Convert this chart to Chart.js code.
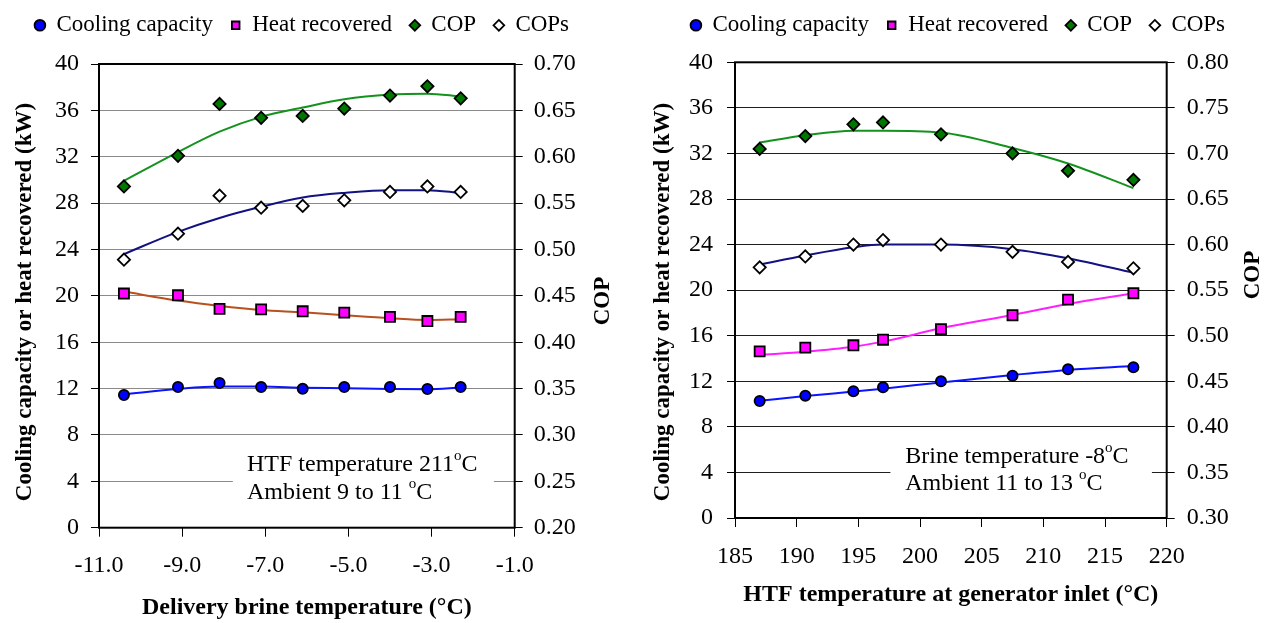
<!DOCTYPE html>
<html><head><meta charset="utf-8">
<script src="https://cdn.jsdelivr.net/npm/chart.js@4.4.1/dist/chart.umd.min.js"></script>
<style>
html,body{margin:0;padding:0;background:#fff;}
#w1{position:absolute;left:0;top:0;width:640px;height:623px;}
#w2{position:absolute;left:640px;top:0;width:636px;height:623px;}
</style></head><body>
<div id="w1"><canvas id="c1" width="640" height="623"></canvas></div>
<div id="w2"><canvas id="c2" width="636" height="623"></canvas></div>
<script>
// ---------- Left chart data ----------
const seriesNames = ['Cooling capacity', 'Heat recovered', 'COP', 'COPs'];
const L_brineT   = [-10.4, -9.1, -8.1, -7.1, -6.1, -5.1, -4.0, -3.1, -2.3];
const L_cooling  = [11.45, 12.14, 12.48, 12.14, 11.99, 12.14, 12.14, 11.97, 12.14];
const L_heat     = [20.2, 20.05, 18.87, 18.84, 18.67, 18.55, 18.18, 17.83, 18.18];
const L_cop      = [0.568, 0.601, 0.657, 0.642, 0.644, 0.652, 0.666, 0.676, 0.663];
const L_cops     = [0.489, 0.517, 0.558, 0.545, 0.547, 0.553, 0.562, 0.568, 0.562];
// trendlines at the same temperatures
const L_coolingTrend = [11.51, 11.97, 12.17, 12.17, 12.08, 12.03, 11.97, 11.94, 12.10];
const L_heatTrend    = [20.37, 19.59, 19.13, 18.78, 18.58, 18.33, 18.07, 17.92, 17.98];
const L_copTrend     = [0.574, 0.605, 0.627, 0.643, 0.653, 0.662, 0.667, 0.668, 0.665];
const L_copsTrend    = [0.495, 0.519, 0.534, 0.546, 0.556, 0.561, 0.564, 0.564, 0.561];
const L_xTicks  = [-11, -9, -7, -5, -3, -1];
const L_xLabels = ['-11.0', '-9.0', '-7.0', '-5.0', '-3.0', '-1.0'];
const L_yTicks  = [0, 4, 8, 12, 16, 20, 24, 28, 32, 36, 40];
const L_y1Ticks = [0.20, 0.25, 0.30, 0.35, 0.40, 0.45, 0.50, 0.55, 0.60, 0.65, 0.70];
const L_y1Labels = ['0.20','0.25','0.30','0.35','0.40','0.45','0.50','0.55','0.60','0.65','0.70'];
const L_xTitle = 'Delivery brine temperature (°C)';
const L_note = [[['HTF temperature 211', false], ['o', true], ['C', false]],
                [['Ambient 9 to 11 ', false], ['o', true], ['C', false]]];

// ---------- Right chart data ----------
const R_htfT     = [187, 190.7, 194.6, 197, 201.7, 207.5, 212, 217.3];
const R_cooling  = [10.27, 10.74, 11.12, 11.47, 12.0, 12.49, 13.05, 13.23];
const R_heat     = [14.63, 14.95, 15.16, 15.65, 16.57, 17.80, 19.17, 19.73];
const R_cop      = [0.705, 0.719, 0.732, 0.734, 0.721, 0.700, 0.681, 0.671];
const R_cops     = [0.575, 0.587, 0.600, 0.605, 0.600, 0.592, 0.581, 0.574];
const R_coolingTrend = [10.30, 10.70, 11.10, 11.35, 11.90, 12.55, 13.00, 13.34];
const R_heatTrend    = [14.31, 14.60, 15.04, 15.48, 16.65, 17.82, 18.79, 19.73];
const R_copTrend     = [0.712, 0.720, 0.725, 0.725, 0.723, 0.706, 0.689, 0.662];
const R_copsTrend    = [0.578, 0.588, 0.597, 0.600, 0.600, 0.595, 0.585, 0.569];
const R_xTicks  = [185, 190, 195, 200, 205, 210, 215, 220];
const R_xLabels = ['185','190','195','200','205','210','215','220'];
const R_yTicks  = [0, 4, 8, 12, 16, 20, 24, 28, 32, 36, 40];
const R_y1Ticks = [0.30, 0.35, 0.40, 0.45, 0.50, 0.55, 0.60, 0.65, 0.70, 0.75, 0.80];
const R_y1Labels = ['0.30','0.35','0.40','0.45','0.50','0.55','0.60','0.65','0.70','0.75','0.80'];
const R_xTitle = 'HTF temperature at generator inlet (°C)';
const R_note = [[['Brine temperature -8', false], ['o', true], ['C', false]],
                [['Ambient 11 to 13 ', false], ['o', true], ['C', false]]];

const yTitle = 'Cooling capacity or heat recovered (kW)';
const y1Title = 'COP';

const SERIF = '"Liberation Serif", "Times New Roman", serif';
Chart.defaults.color = '#000';
Chart.defaults.font.family = SERIF;

const pts = (xs, ys) => xs.map((x, i) => ({x, y: ys[i]}));

function richLine(ctx, x, y, parts) {
  let cx = x;
  for (const [t, sup] of parts) {
    ctx.font = (sup ? '15px ' : '24px ') + SERIF;
    ctx.fillText(t, cx, sup ? y - 9 : y);
    cx += ctx.measureText(t).width;
  }
}

function build(canvas, o) {
  const pointBase = {showLine: false, borderColor: '#000', pointBorderColor: '#000', pointBorderWidth: 1.8, borderWidth: 1.8};
  const trendBase = {showLine: true, pointRadius: 0, borderWidth: 2, cubicInterpolationMode: 'monotone', fill: false};
  const datasets = [
    Object.assign({label: seriesNames[0], data: pts(o.x, o.cooling), pointStyle: 'circle', pointRadius: 5.1,
      backgroundColor: '#0000ff', pointBackgroundColor: '#0000ff', yAxisID: 'y'}, pointBase),
    Object.assign({label: seriesNames[1], data: pts(o.x, o.heat), pointStyle: 'rect', pointRadius: 7.1,
      backgroundColor: '#ff00ff', pointBackgroundColor: '#ff00ff', yAxisID: 'y'}, pointBase),
    Object.assign({label: seriesNames[2], data: pts(o.x, o.cop), pointStyle: 'rectRot', pointRadius: 6.1,
      backgroundColor: '#007800', pointBackgroundColor: '#007800', yAxisID: 'y1'}, pointBase),
    Object.assign({label: seriesNames[3], data: pts(o.x, o.cops), pointStyle: 'rectRot', pointRadius: 6.1,
      backgroundColor: '#ffffff', pointBackgroundColor: '#ffffff', yAxisID: 'y1'}, pointBase),
    Object.assign({label: 't0', data: pts(o.x, o.coolingTrend), borderColor: o.colCooling, yAxisID: 'y'}, trendBase),
    Object.assign({label: 't1', data: pts(o.x, o.heatTrend), borderColor: o.colHeat, yAxisID: 'y'}, trendBase),
    Object.assign({label: 't2', data: pts(o.x, o.copTrend), borderColor: '#14921e', yAxisID: 'y1'}, trendBase),
    Object.assign({label: 't3', data: pts(o.x, o.copsTrend), borderColor: '#121282', yAxisID: 'y1'}, trendBase)
  ];
  const plugin = {
    id: 'deco',
    beforeLayout(chart) {
      const lg = chart.legend;
      if (lg && !lg._patched) {
        const f = lg.fit;
        lg.fit = function () { f.call(this); this.height = o.legendH; };
        lg._patched = true;
      }
    },
    beforeDatasetsDraw(chart) {
      const {ctx, scales: {x, y}} = chart;
      const n = o.note;
      const x0 = x.getPixelForValue(n.box[0]), x1 = x.getPixelForValue(n.box[1]);
      const y0 = y.getPixelForValue(n.box[3]), y1 = y.getPixelForValue(n.box[2]);
      ctx.save();
      ctx.fillStyle = '#fff';
      ctx.fillRect(x0, y0, x1 - x0, y1 - y0);
      ctx.fillStyle = '#000';
      ctx.textBaseline = 'middle';
      ctx.textAlign = 'left';
      const tx = x.getPixelForValue(n.tx);
      richLine(ctx, tx, y.getPixelForValue(n.ty[0]), n.lines[0]);
      richLine(ctx, tx, y.getPixelForValue(n.ty[1]), n.lines[1]);
      ctx.restore();
    },
    afterDraw(chart) {
      const {ctx, chartArea: a} = chart;
      ctx.save();
      ctx.strokeStyle = '#000';
      ctx.lineWidth = 2;
      ctx.strokeRect(a.left, a.top, a.right - a.left, a.bottom - a.top);
      ctx.fillStyle = '#000';
      ctx.textAlign = 'center';
      ctx.textBaseline = 'middle';
      ctx.font = 'bold 23px ' + SERIF;
      ctx.translate(o.yTitlePos[0], o.yTitlePos[1]);
      ctx.rotate(-Math.PI / 2);
      ctx.fillText(yTitle, 0, 0);
      ctx.restore();
      ctx.save();
      ctx.fillStyle = '#000';
      ctx.textAlign = 'center';
      ctx.textBaseline = 'middle';
      ctx.font = 'bold 23px ' + SERIF;
      ctx.translate(o.y1TitlePos[0], o.y1TitlePos[1]);
      ctx.rotate(-Math.PI / 2);
      ctx.fillText(y1Title, 0, 0);
      ctx.restore();
    }
  };
  const tickFont = {family: SERIF, size: 24};
  return new Chart(canvas, {
    type: 'scatter',
    data: {datasets},
    options: {
      responsive: false, animation: false, events: [],
      layout: {padding: o.pad},
      plugins: {
        tooltip: {enabled: false},
        legend: {
          display: true, position: 'top', align: 'center',
          labels: {
            usePointStyle: true, boxWidth: 10, boxHeight: 7.6, padding: 17.8,
            font: {family: SERIF, size: 23}, color: '#000',
            filter: (item) => item.datasetIndex < 4
          }
        }
      },
      scales: {
        x: {
          type: 'linear', position: 'bottom', min: o.xTicks[0], max: o.xTicks[o.xTicks.length - 1],
          afterBuildTicks: (s) => { s.ticks = o.xTicks.map(v => ({value: v})); },
          afterFit: (s) => { s.height = o.xH; },
          ticks: {font: tickFont, padding: o.xTickPad, maxRotation: 0, autoSkip: false,
            callback: (v, i) => o.xLabels[i]},
          grid: {drawOnChartArea: false, drawTicks: true, tickLength: 9, tickColor: '#000', tickWidth: 1},
          border: {display: false},
          title: {display: true, text: o.xTitle, font: {family: SERIF, size: 24, weight: 'bold'},
            padding: {top: 0, bottom: o.xTitlePad}, color: '#000'}
        },
        y: {
          type: 'linear', position: 'left', min: 0, max: 40,
          afterBuildTicks: (s) => { s.ticks = o.yTicks.map(v => ({value: v})); },
          afterFit: (s) => { s.width = o.yW; },
          ticks: {font: tickFont, padding: o.yTickPad, callback: (v, i) => String(o.yTicks[i])},
          grid: {color: o.gridCol, lineWidth: 1, drawTicks: true, tickLength: 8, tickColor: '#000', tickWidth: 1},
          border: {display: false}
        },
        y1: {
          type: 'linear', position: 'right', min: o.y1Ticks[0], max: o.y1Ticks[o.y1Ticks.length - 1],
          afterBuildTicks: (s) => { s.ticks = o.y1Ticks.map(v => ({value: v})); },
          afterFit: (s) => { s.width = o.y1W; },
          ticks: {font: tickFont, padding: o.y1TickPad, callback: (v, i) => o.y1Labels[i]},
          grid: {drawOnChartArea: false, drawTicks: true, tickLength: 8, tickColor: '#000', tickWidth: 1},
          border: {display: false}
        }
      }
    },
    plugins: [plugin]
  });
}

build(document.getElementById('c1'), {
  x: L_brineT, cooling: L_cooling, heat: L_heat, cop: L_cop, cops: L_cops,
  coolingTrend: L_coolingTrend, heatTrend: L_heatTrend, copTrend: L_copTrend, copsTrend: L_copsTrend,
  colCooling: '#0a14ff', colHeat: '#b9501e',
  xTicks: L_xTicks, xLabels: L_xLabels, yTicks: L_yTicks, y1Ticks: L_y1Ticks, y1Labels: L_y1Labels,
  xTitle: L_xTitle,
  pad: {left: 0, right: 36, top: -4, bottom: 0},
  legendH: 68, yW: 99, y1W: 89.3, xH: 95.3,
  xTickPad: 15, yTickPad: 12, y1TickPad: 11, xTitlePad: 0.6,
  gridCol: '#8a8a8a',
  yTitlePos: [25, 302], y1TitlePos: [603, 301],
  note: {box: [-7.78, -1.5, 0.6, 7.4], tx: -7.44, ty: [5.4, 3.0], lines: L_note}
});

build(document.getElementById('c2'), {
  x: R_htfT, cooling: R_cooling, heat: R_heat, cop: R_cop, cops: R_cops,
  coolingTrend: R_coolingTrend, heatTrend: R_heatTrend, copTrend: R_copTrend, copsTrend: R_copsTrend,
  colCooling: '#0a14ff', colHeat: '#ff1eff',
  xTicks: R_xTicks, xLabels: R_xLabels, yTicks: R_yTicks, y1Ticks: R_y1Ticks, y1Labels: R_y1Labels,
  xTitle: R_xTitle,
  pad: {left: 0, right: 0, top: -4, bottom: 0},
  legendH: 66.3, yW: 95, y1W: 109.3, xH: 105,
  xTickPad: 15, yTickPad: 14, y1TickPad: 12, xTitlePad: 13.6,
  gridCol: '#1e1e1e',
  yTitlePos: [23, 302], y1TitlePos: [613, 275],
  note: {box: [197.6, 218.8, 0.6, 7.4], tx: 198.8, ty: [5.38, 2.98], lines: R_note}
});
</script>
</body></html>
